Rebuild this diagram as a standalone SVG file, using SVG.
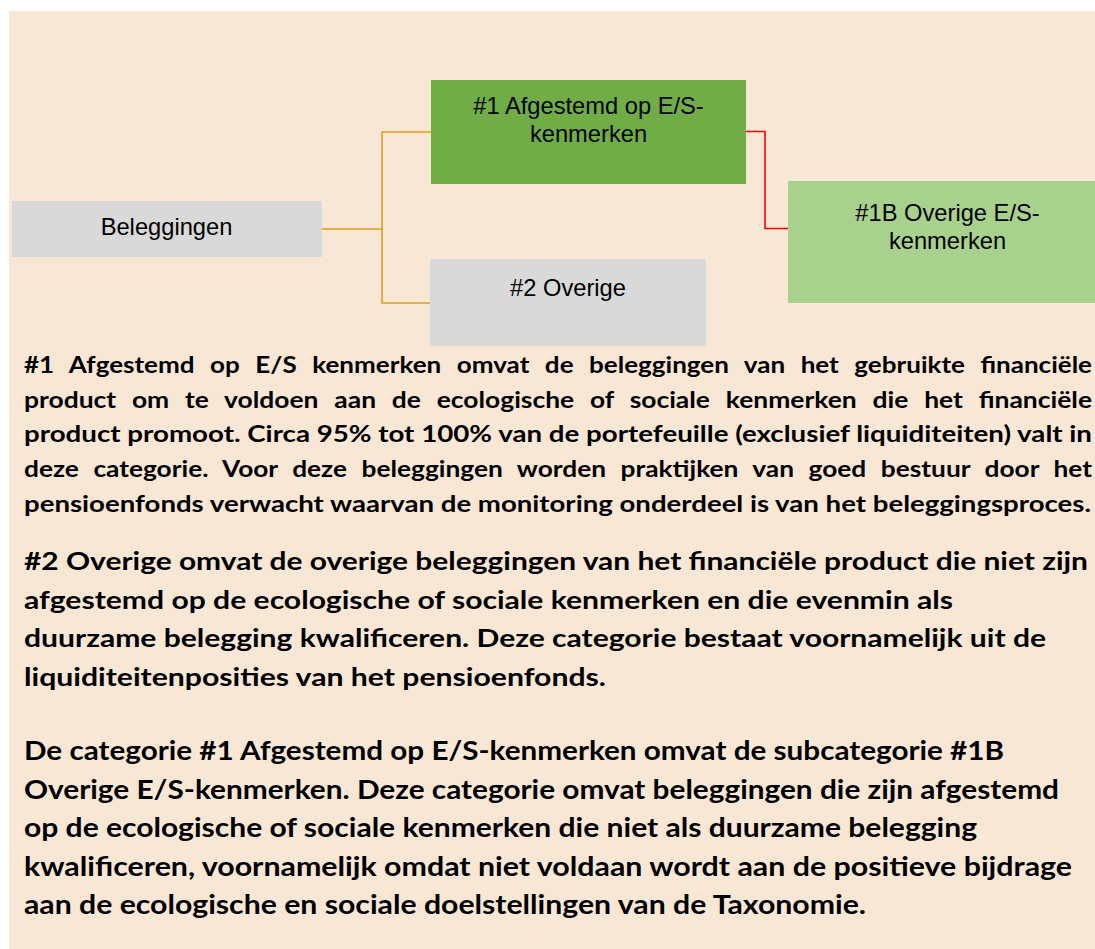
<svg xmlns="http://www.w3.org/2000/svg" width="1095" height="949" viewBox="0 0 1095 949">
<style>
.bg{fill:#F9E7D6}
.box-text{font-family:"Liberation Sans",Arial,sans-serif;font-size:23.7px;fill:#000;text-anchor:middle}
.body{font-family:Lato,"Open Sans",sans-serif;font-weight:bold;fill:#000}
.p1{font-size:22.5px}
.p2{font-size:24.5px}
.p3{font-size:26px}
.conn-o{fill:none;stroke:#D9A21B;stroke-width:1.6}
.conn-r{fill:none;stroke:#FF0000;stroke-width:1.6}
</style>
<rect class="bg" x="9" y="11" width="1086" height="938"/>
<g id="connectors">
<path class="conn-o" d="M322,229 H382"/>
<path class="conn-o" d="M431,132 H382 V303 H430"/>
<path class="conn-r" d="M746,131.5 H765 V228.5 H788"/>
</g>
<g id="node-beleggingen">
<rect x="12" y="201" width="310" height="56" fill="#D9D9D9"/>
<text class="box-text" x="166.5" y="235">Beleggingen</text>
</g>
<g id="node-1">
<rect x="431" y="80" width="315" height="104" fill="#70AD47"/>
<text class="box-text" x="588.5" y="114">#1 Afgestemd op E/S-</text>
<text class="box-text" x="588.5" y="142">kenmerken</text>
</g>
<g id="node-2">
<rect x="430" y="259" width="276" height="87" fill="#D9D9D9"/>
<text class="box-text" x="568" y="296">#2 Overige</text>
</g>
<g id="node-1b">
<rect x="788" y="181" width="307" height="122" fill="#A9D18E"/>
<text class="box-text" x="947.5" y="221">#1B Overige E/S-</text>
<text class="box-text" x="947.5" y="248.5">kenmerken</text>
</g>
<g id="text-para1" class="body p1">
<text x="24" y="373" word-spacing="8" textLength="1068" lengthAdjust="spacingAndGlyphs">#1 Afgestemd op E/S kenmerken omvat de beleggingen van het gebruikte financiële</text>
<text x="24" y="408" word-spacing="8" textLength="1068" lengthAdjust="spacingAndGlyphs">product om te voldoen aan de ecologische of sociale kenmerken die het financiële</text>
<text x="24" y="442" textLength="1068" lengthAdjust="spacingAndGlyphs">product promoot. Circa 95% tot 100% van de portefeuille (exclusief liquiditeiten) valt in</text>
<text x="24" y="477" word-spacing="7" textLength="1068" lengthAdjust="spacingAndGlyphs">deze categorie. Voor deze beleggingen worden praktijken van goed bestuur door het</text>
<text x="24" y="512" textLength="1067" lengthAdjust="spacingAndGlyphs">pensioenfonds verwacht waarvan de monitoring onderdeel is van het beleggingsproces.</text>
</g>
<g id="text-para2" class="body p2">
<text x="24" y="570" textLength="1064" lengthAdjust="spacingAndGlyphs">#2 Overige omvat de overige beleggingen van het financiële product die niet zijn</text>
<text x="24" y="608.5" textLength="929" lengthAdjust="spacingAndGlyphs">afgestemd op de ecologische of sociale kenmerken en die evenmin als</text>
<text x="24" y="647" textLength="1022" lengthAdjust="spacingAndGlyphs">duurzame belegging kwalificeren. Deze categorie bestaat voornamelijk uit de</text>
<text x="24" y="685.5" textLength="582" lengthAdjust="spacingAndGlyphs">liquiditeitenposities van het pensioenfonds.</text>
</g>
<g id="text-para3" class="body p3">
<text x="24" y="760" textLength="980" lengthAdjust="spacingAndGlyphs">De categorie #1 Afgestemd op E/S-kenmerken omvat de subcategorie #1B</text>
<text x="24" y="798.5" textLength="1035" lengthAdjust="spacingAndGlyphs">Overige E/S-kenmerken. Deze categorie omvat beleggingen die zijn afgestemd</text>
<text x="24" y="837" textLength="953" lengthAdjust="spacingAndGlyphs">op de ecologische of sociale kenmerken die niet als duurzame belegging</text>
<text x="24" y="875.5" textLength="1048" lengthAdjust="spacingAndGlyphs">kwalificeren, voornamelijk omdat niet voldaan wordt aan de positieve bijdrage</text>
<text x="24" y="914" textLength="842" lengthAdjust="spacingAndGlyphs">aan de ecologische en sociale doelstellingen van de Taxonomie.</text>
</g>
</svg>
